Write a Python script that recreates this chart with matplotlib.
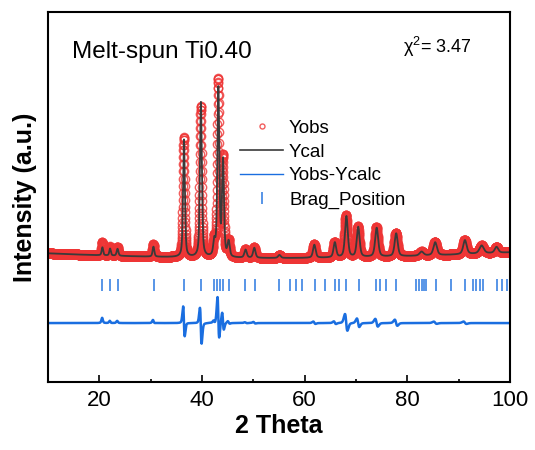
import numpy as np
import matplotlib.pyplot as plt

plt.rcParams['font.family'] = ['Liberation Sans', 'DejaVu Sans']
plt.rcParams['mathtext.fontset'] = 'custom'
plt.rcParams['mathtext.rm'] = 'Liberation Sans'

# ---- data ----
# calculated peaks (2theta, height above background, fwhm)
calc_pos = [20.60, 22.10, 23.55, 30.55, 36.50, 39.80, 42.40, 43.20, 44.10, 45.20,
            48.50, 50.20, 55.10, 61.90, 65.90, 68.15, 70.45, 74.05, 77.85, 82.80,
            85.45, 91.25, 94.50, 97.40]
calc_height = [80, 70, 70, 100, 1175, 1550, 140, 1680, 950, 150,
               80, 100, 30, 130, 150, 410, 300, 290, 230, 40,
               130, 140, 80, 60]
# observed peaks (slightly shifted / different intensity)
obs_pos = [20.58, 22.08, 23.53, 30.52, 36.46, 39.76, 42.37, 43.16, 44.07, 45.17,
           48.48, 50.17, 55.10, 61.86, 65.86, 68.05, 70.38, 73.98, 77.78, 82.80,
           85.40, 91.20, 94.50, 97.40]
obs_height = [130, 90, 90, 125, 1200, 1510, 150, 1760, 980, 160,
              85, 105, 30, 135, 155, 420, 305, 295, 235, 40,
              135, 145, 80, 60]
peak_fwhm = [0.35, 0.35, 0.40, 0.40, 0.42, 0.45, 0.45, 0.45, 0.45, 0.50,
             0.55, 0.55, 0.60, 0.60, 0.60, 0.65, 0.65, 0.70, 0.70, 0.90,
             0.80, 0.80, 1.00, 0.80]
# background polynomial about 55 deg
bg_coef = [1240, 0.11, 0.026]

bragg_pos = [20.6, 22.1, 23.6, 30.6, 36.5, 39.8, 42.4, 42.9, 43.5, 44.1,
             45.2, 48.4, 50.3, 55.0, 57.2, 58.4, 59.4, 61.95, 63.9, 65.85,
             66.8, 68.1, 70.6, 74.0, 74.6, 75.9, 77.8, 81.8, 82.3, 82.8,
             83.2, 83.7, 85.7, 88.6, 91.2, 92.9, 93.5, 94.2, 94.8, 97.4,
             98.4, 99.4]

diff_offset = 590
bragg_level = 975

# ---- profiles ----
tt = np.arange(10, 100.001, 0.02)


def profile(pos, height, fwhm):
    y = bg_coef[0] + bg_coef[1] * (tt - 55) + bg_coef[2] * (tt - 55) ** 2
    for p, h, w in zip(pos, height, fwhm):
        d = (tt - p) / (w / 2)
        y = y + h * (0.5 / (1 + d ** 2) + 0.5 * np.exp(-np.log(2) * d ** 2))
    return y


ycal = profile(calc_pos, calc_height, peak_fwhm)
yobs = profile(obs_pos, obs_height, peak_fwhm)
ydiff = yobs - ycal

fig = plt.figure(figsize=(5.35, 4.5), dpi=100)
ax = fig.add_axes([0.0897, 0.151, 0.8633, 0.822])

ax.plot(tt, yobs, 'o', ms=6, mfc='none', mec='#ee3535', mew=1.0, alpha=0.8,
        label='Yobs')
ax.plot(tt, ycal, color='#3a3a3a', lw=1.3, label='Ycal')
ax.plot(tt, ydiff + diff_offset, color='#1a6ee0', lw=1.8, label='Yobs-Ycalc')
ax.plot(bragg_pos, [bragg_level] * len(bragg_pos), '|', ms=8, mew=1.1,
        color='#2a78e0', label='Brag_Position')

ax.set_xlim(10, 100)
ax.set_ylim(0, 3700)
ax.set_xticks([20, 40, 60, 80, 100])
ax.set_xticks([30, 50, 70, 90], minor=True)
ax.set_yticks([])
ax.tick_params(axis='x', which='major', direction='in', length=5, width=1.2,
               labelsize=16, pad=6)
ax.tick_params(axis='x', which='minor', direction='in', length=2.5, width=1.2)
for s in ax.spines.values():
    s.set_linewidth(1.5)

ax.set_xlabel('2 Theta', fontsize=18, fontweight='bold', labelpad=2)
ax.set_ylabel('Intensity (a.u.)', fontsize=18, fontweight='bold', labelpad=8)

ax.text(0.052, 0.892, 'Melt-spun Ti0.40', transform=ax.transAxes,
        fontsize=17.5, va='center', ha='left')
ax.text(0.768, 0.905, 'χ$^2$= 3.47', transform=ax.transAxes,
        fontsize=13, va='center', ha='left')

leg = ax.legend(loc='upper left', bbox_to_anchor=(0.4156, 0.7095), frameon=False,
                fontsize=13.5, handlelength=2.3, handletextpad=0.32,
                labelspacing=0.36, borderpad=0, borderaxespad=0)
leg.legend_handles[0].set_markersize(3.6)
leg.legend_handles[1].set_linewidth(1.2)
leg.legend_handles[2].set_linewidth(1.0)

fig.savefig('out.png', dpi=100)
